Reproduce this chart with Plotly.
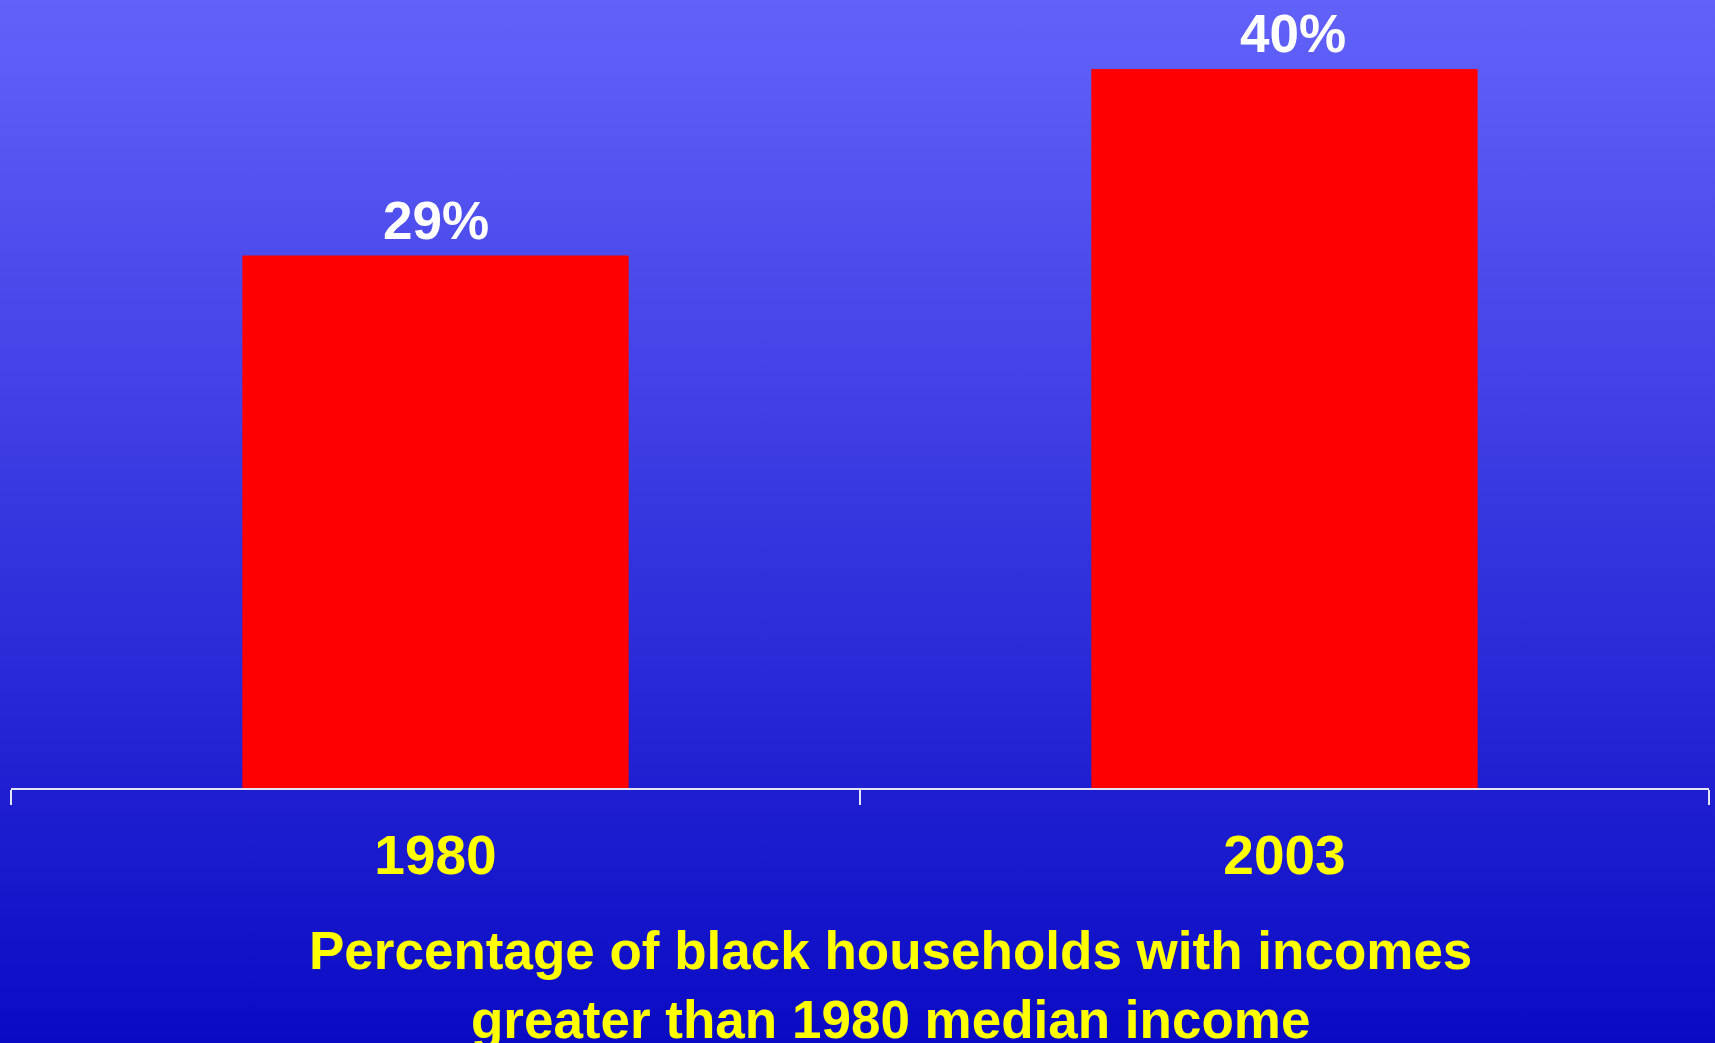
import base64
import plotly.graph_objects as go

# ---- data ----
years = ["1980", "2003"]
shares = [29.4, 39.7]          # bar heights (percent)
share_labels = ["29%", "40%"]  # labels printed on the chart
caption = "Percentage of black households with incomes<br>greater than 1980 median income"

W, H = 1715, 1043

# vertical gradient background as an SVG image
svg = (
    f'<svg xmlns="http://www.w3.org/2000/svg" width="{W}" height="{H}" preserveAspectRatio="none">'
    '<defs><linearGradient id="g" x1="0" y1="0" x2="0" y2="1">'
    '<stop offset="0" stop-color="#6262FA"/>'
    '<stop offset="1" stop-color="#0A0AC4"/>'
    '</linearGradient></defs>'
    f'<rect width="{W}" height="{H}" fill="url(#g)"/></svg>'
)
bg_src = "data:image/svg+xml;base64," + base64.b64encode(svg.encode()).decode()

fig = go.Figure(
    go.Bar(
        x=years,
        y=shares,
        marker=dict(color="#FF0000", line=dict(width=0)),
        width=0.455,
        hoverinfo="skip",
    )
)

for i, (v, lab) in enumerate(zip(shares, share_labels)):
    fig.add_annotation(
        x=i, y=v, xref="x", yref="y",
        text=lab, showarrow=False,
        yanchor="bottom", yshift=4, xshift=8 * i,
        font=dict(family="Liberation Sans", size=53, color="white", weight="bold"),
    )

fig.add_annotation(
    x=0.518, y=-0.2500, xref="paper", yref="paper",
    text=caption, showarrow=False,
    xanchor="center", yanchor="middle",
    font=dict(family="Liberation Sans", size=53, color="#FFFF00", weight="bold"),
)

fig.update_layout(
    width=W, height=H,
    margin=dict(l=11, r=6, t=0, b=255),
    paper_bgcolor="#2a2ad0",
    plot_bgcolor="rgba(0,0,0,0)",
    showlegend=False,
    images=[dict(
        source=bg_src, xref="paper", yref="paper",
        x=-11 / 1698, y=1, sizex=W / 1698, sizey=H / 788,
        xanchor="left", yanchor="top", sizing="stretch", layer="below",
    )],
    xaxis=dict(
        type="category",
        showline=True, linecolor="#E4E4F4", linewidth=2,
        ticks="outside", tickson="boundaries", ticklen=15, tickwidth=2, tickcolor="#E4E4F4",
        ticklabelstandoff=18,
        showgrid=False, zeroline=False,
        tickfont=dict(family="Liberation Sans", size=55, color="#FFFF00", weight="bold"),
        range=[-0.5, 1.5],
    ),
    yaxis=dict(visible=False, range=[0, 43.51], showgrid=False, zeroline=False),
)

fig.write_html(
    "out.html",
    config={"displayModeBar": False},
    post_script="document.body.style.margin='0';document.documentElement.style.margin='0';document.body.style.overflow='hidden';",
)
